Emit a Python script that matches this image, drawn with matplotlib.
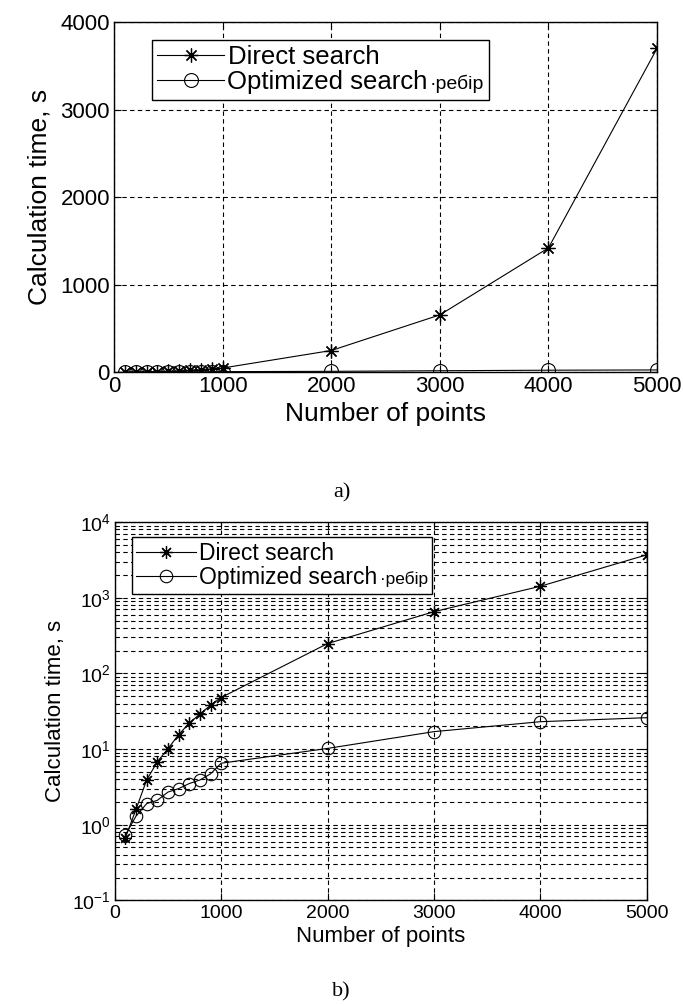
import matplotlib
matplotlib.use("Agg")
import matplotlib.pyplot as plt
from matplotlib.ticker import LogLocator
from matplotlib.offsetbox import TextArea

points = [100, 200, 300, 400, 500, 600, 700, 800, 900, 1000, 2000, 3000, 4000, 5000]
direct_time = [0.67, 1.6, 3.9, 6.8, 10.1, 15.5, 22, 29, 38, 48, 248, 655, 1420, 3700]
opt_time = [0.73, 1.3, 1.9, 2.1, 2.7, 3.0, 3.5, 3.9, 4.7, 6.5, 10.2, 17, 23, 26]

x_ticks = [0, 1000, 2000, 3000, 4000, 5000]
lin_ticks = [0, 1000, 2000, 3000, 4000]
labels = ["Direct search", "Optimized search"]
suffix = "·ребір"

plt.rcParams['font.family'] = ['Liberation Sans', 'DejaVu Sans']
plt.rcParams['mathtext.fontset'] = 'custom'
plt.rcParams['mathtext.rm'] = 'Liberation Sans'
plt.rcParams['mathtext.it'] = 'Liberation Sans'
grid_style = dict(color='black', linestyle=(0, (4, 3)), linewidth=0.8)
asterisk = (8, 2, 0)


def style_axes(ax, size):
    ax.tick_params(direction='in', top=True, right=True, labelsize=size, length=5, pad=3)
    ax.tick_params(which='minor', direction='in', top=True, right=True, length=2.5)
    for s in ax.spines.values():
        s.set_linewidth(1.0)


def make_legend(ax, anchor, size, suffix_size):
    leg = ax.legend(loc='upper left', bbox_to_anchor=anchor, borderaxespad=0, fontsize=size,
                    handlelength=2.6, handletextpad=0.15, borderpad=0.2, labelspacing=0.05,
                    fancybox=False, edgecolor='black', framealpha=1)
    leg.get_frame().set_linewidth(1.0)
    # small trailing text after the second label, kept inside the legend box
    column = leg._legend_handle_box.get_children()[0]
    item = column.get_children()[1]
    extra = TextArea(suffix, textprops=dict(fontsize=suffix_size, color='black'))
    extra.set_figure(ax.figure)
    item._children.append(extra)
    item.sep = 2
    return leg


fig = plt.figure(figsize=(6.83, 10.06), dpi=100)

# a) linear scale
ax1 = fig.add_axes([0.167, 0.630, 0.795, 0.348])
ax1.plot(points, direct_time, color='black', lw=0.8, marker=asterisk, ms=10, mew=0.9,
         label=labels[0])
ax1.plot(points, opt_time, color='black', lw=0.8, marker='o', ms=10, mfc='none', mew=0.8,
         label=labels[1])
ax1.set_xlim(0, 5000)
ax1.set_ylim(0, 4000)
ax1.set_xticks(x_ticks)
ax1.set_yticks(lin_ticks)
ax1.grid(True, **grid_style)
style_axes(ax1, 16)
ax1.set_xlabel("Number of points", fontsize=19, labelpad=3)
ax1.set_ylabel("Calculation time, s", fontsize=19, labelpad=6)
make_legend(ax1, (0.07, 0.949), 18.5, 14)
fig.text(0.5, 0.51, "a)", fontsize=16, family='Liberation Serif', ha='center', va='center')

# b) log scale
ax2 = fig.add_axes([0.168, 0.105, 0.779, 0.376])
ax2.semilogy(points, direct_time, color='black', lw=0.8, marker=asterisk, ms=9, mew=0.9,
             label=labels[0])
ax2.semilogy(points, opt_time, color='black', lw=0.8, marker='o', ms=9, mfc='none', mew=0.8,
             label=labels[1])
ax2.set_xlim(0, 5000)
ax2.set_ylim(0.1, 1e4)
ax2.set_xticks(x_ticks)
ax2.yaxis.set_major_locator(LogLocator(base=10, numticks=10))
ax2.yaxis.set_minor_locator(LogLocator(base=10, subs=range(2, 10), numticks=10))
ax2.grid(True, which='major', **grid_style)
ax2.grid(True, which='minor', axis='y', **grid_style)
style_axes(ax2, 14)
ax2.set_xlabel("Number of points", fontsize=16, labelpad=3)
ax2.set_ylabel("Calculation time, s", fontsize=16, labelpad=4)
make_legend(ax2, (0.032, 0.96), 16.5, 12.5)
fig.text(0.5, 0.014, "b)", fontsize=16, family='Liberation Serif', ha='center', va='center')

fig.savefig("out.png", dpi=100)
